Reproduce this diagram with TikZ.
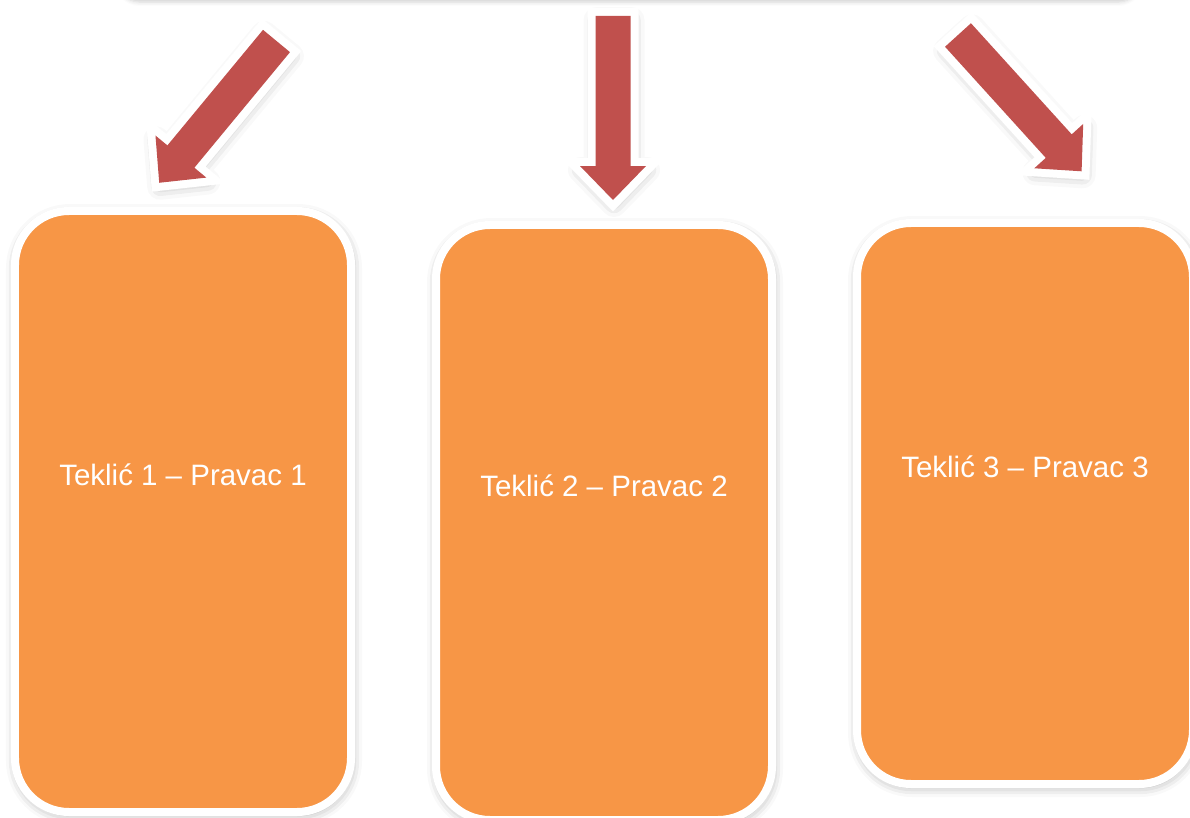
\documentclass[tikz,border=0pt]{standalone}
\usepackage{fontspec}
\setmainfont{Liberation Sans}
\usetikzlibrary{shadows.blur}
\definecolor{arrowred}{HTML}{C0504D}
\definecolor{boxorange}{HTML}{F79646}
\tikzset{
  tekbox/.style={draw=white, line width=8bp, fill=boxorange, rounded corners=54bp,
    minimum width=336bp, inner sep=0pt,
    blur shadow={shadow xshift=1bp, shadow yshift=-3bp, shadow blur radius=10bp, shadow opacity=35}},
  teklabel/.style={text=white, font=\fontsize{29.6pt}{35pt}\selectfont, inner sep=0pt},
  arrowrim/.style={draw=white, fill=white, line width=16bp, line join=miter,
    blur shadow={shadow xshift=1bp, shadow yshift=-4bp, shadow blur radius=13bp, shadow opacity=35}},
  arrowbody/.style={fill=arrowred}
}
\begin{document}
\begin{tikzpicture}[x=1bp,y=-1bp,line join=round]
\useasboundingbox (0,0) rectangle (1190,818);
\clip (0,0) rectangle (1190,818);
% box above the picture
\node[fill=white, minimum width=1020bp, minimum height=80bp, rounded corners=20bp,
  blur shadow={shadow xshift=0bp, shadow yshift=-2bp, shadow blur radius=4bp, shadow opacity=18}] (top) at (629,-40) {};
% the three boxes
\node[tekbox, minimum height=601bp] (box1) at (183,511.5) {};
\node[tekbox, minimum height=595bp] (box2) at (604,522.5) {};
\node[tekbox, minimum height=561bp] (box3) at (1025,503.5) {};
\foreach \idx in {1,2,3}
{
  \node[teklabel] (lbl\idx) at ([yshift=37bp]box\idx.center) {Teklić \idx{} – Pravac \idx};
}
% arrows
\foreach \x/\y/\a in {276.5/41/-129.6, 613/16/-90, 958/35/-47.8}
{
  \begin{scope}[shift={(\x,\y)}, rotate=\a]
    \path[arrowrim] (0,-17.5) -- (150,-17.5) -- (150,-33) -- (184,0) -- (150,33) -- (150,17.5) -- (0,17.5) -- cycle;
    \path[arrowbody] (0,-17.5) -- (150,-17.5) -- (150,-33) -- (184,0) -- (150,33) -- (150,17.5) -- (0,17.5) -- cycle;
  \end{scope}
}
\end{tikzpicture}
\end{document}
